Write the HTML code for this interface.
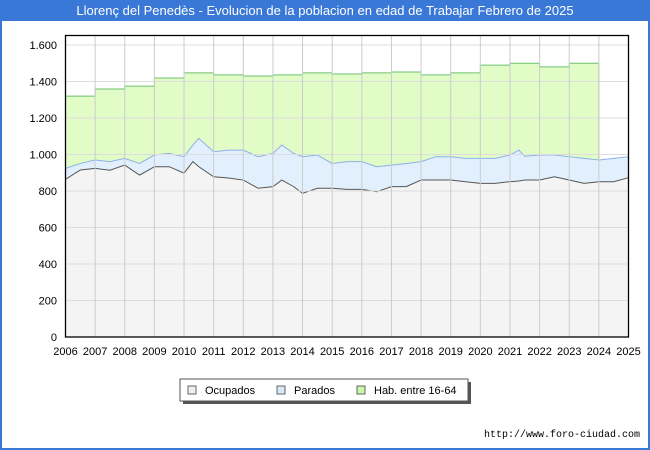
<!DOCTYPE html>
<html><head><meta charset="utf-8">
<style>
body{margin:0;width:650px;height:450px;background:#fff;font-family:"Liberation Sans",sans-serif;overflow:hidden;position:relative}
#frame{position:absolute;left:0;top:0;width:646px;height:446px;border:2px solid #3a78d8}
#title{position:absolute;left:0;top:0;width:650px;height:21px;background:#3a78d8;color:#fff;font-size:13px;line-height:22px;text-align:center}
svg{position:absolute;left:0;top:0}
</style></head><body>
<div id="frame"></div>
<div id="title">Llorenç del Penedès - Evolucion de la poblacion en edad de Trabajar Febrero de 2025</div>
<svg id="chart" width="650" height="450"></svg>
<script>
const years=[2006,2007,2008,2009,2010,2011,2012,2013,2014,2015,2016,2017,2018,2019,2020,2021,2022,2023,2024,2025];
const yTicks=[0,200,400,600,800,1000,1200,1400,1600];
const yTickLabels=["0","200","400","600","800","1.000","1.200","1.400","1.600"];
const habValues=[1320,1359,1375,1419,1447,1436,1430,1436,1447,1441,1447,1452,1436,1447,1490,1500,1480,1500];
const sampleTimes=[2006,2006.5,2007,2007.5,2008,2008.5,2009,2009.5,2010,2010.3,2010.5,2011,2011.5,2012,2012.5,2013,2013.3,2013.7,2014,2014.5,2015,2015.5,2016,2016.5,2017,2017.5,2018,2018.5,2019,2019.5,2020,2020.5,2021,2021.3,2021.5,2022,2022.5,2023,2023.5,2024,2024.5,2025];
const ocupados=[864,915,924,914,942,887,933,933,898,961,933,878,871,860,815,824,860,824,787,815,815,809,809,796,824,824,860,860,860,851,842,842,851,855,860,860,878,860,842,851,851,873];
const ocupParadosTotal=[924,951,970,961,979,951,997,1006,988,1052,1088,1015,1024,1024,988,1006,1052,1006,988,997,951,961,961,933,942,951,961,988,988,979,979,979,997,1024,990,997,997,988,979,970,979,988];

const svg=document.getElementById('chart');
const NS='http://www.w3.org/2000/svg';
const X0=65.5,X1=628.5,Y0=337,Y1=45,YT=35.5;
const xs=t=>X0+(t-2006)/(2025-2006)*(X1-X0);
const ys=v=>Y0-v/1600*(Y0-Y1);
function mk(tag,attrs){const e=document.createElementNS(NS,tag);for(const k in attrs)e.setAttribute(k,attrs[k]);svg.appendChild(e);return e;}
const bg=mk('rect',{x:X0,y:YT,width:X1-X0,height:Y0-YT,fill:'#fff',stroke:'none'});


let d=`M${xs(2006)},${ys(0)}`;
habValues.forEach((v,i)=>{d+=` L${xs(years[i])},${ys(v)} L${xs(years[i+1])},${ys(v)}`;});
d+=` L${xs(2024)},${ys(ocupParadosTotal[ocupParadosTotal.length-3])} L${xs(2024)},${ys(0)} Z`;
const hab=mk('path',{d:d,fill:'#e2fcc8',stroke:'#6cc26c','stroke-width':1});


let dp=`M${xs(sampleTimes[0])},${ys(0)}`;
sampleTimes.forEach((t,i)=>{dp+=` L${xs(t)},${ys(ocupParadosTotal[i])}`;});
dp+=` L${xs(2025)},${ys(0)} Z`;
const par=mk('path',{d:dp,fill:'#e2f0fd',stroke:'none'});


let lp='';sampleTimes.forEach((t,i)=>{lp+=(i?' L':'M')+xs(t)+','+ys(ocupParadosTotal[i]);});
const parL=mk('path',{d:lp,fill:'none',stroke:'#8cb0e8','stroke-width':1});


let dO=`M${xs(sampleTimes[0])},${ys(0)}`;
sampleTimes.forEach((t,i)=>{dO+=` L${xs(t)},${ys(ocupados[i])}`;});
dO+=` L${xs(2025)},${ys(0)} Z`;
const oc=mk('path',{d:dO,fill:'#f4f4f4',stroke:'none'});


let lo='';sampleTimes.forEach((t,i)=>{lo+=(i?' L':'M')+xs(t)+','+ys(ocupados[i]);});
const ocL=mk('path',{d:lo,fill:'none',stroke:'#555','stroke-width':1});


yTicks.forEach((v,i)=>{
 const g=mk('line',{x1:X0,x2:X1,y1:ys(v),y2:ys(v),stroke:'#ddd','stroke-width':1});
 
 
 const t=mk('text',{x:57,y:ys(v)+4,'text-anchor':'end','font-size':11,fill:'#000'});
 t.textContent=yTickLabels[i];
 
 
});
years.forEach(y=>{
 const g=mk('line',{x1:xs(y),x2:xs(y),y1:YT,y2:Y0,stroke:'#ccc','stroke-width':1});
 
 
 const t=mk('text',{x:xs(y),y:355,'text-anchor':'middle','font-size':11,fill:'#000'});
 t.textContent=String(y);
 
 
});
const ax=mk('rect',{x:X0,y:YT,width:X1-X0,height:Y0-YT,fill:'none',stroke:'#000','stroke-width':1.3});


const sh=mk('rect',{x:183,y:382,width:288,height:22,fill:'#555'});


const lg=mk('rect',{x:180,y:379,width:288,height:22,fill:'#fff',stroke:'#555'});


const legItems=[['Ocupados','#eeeeee',188],['Parados','#d8e8fb',277],['Hab. entre 16-64','#c8f8a8',357]];
legItems.forEach(([n,c,x])=>{
 const b=mk('rect',{x:x,y:386,width:8,height:8,fill:c,stroke:'#666'});
 
 
 const t=mk('text',{x:x+17,y:394,'font-size':11,fill:'#000'});
 t.textContent=n;
 
 
});
const url=mk('text',{x:640,y:437,'text-anchor':'end','font-size':10,fill:'#000','font-family':'Liberation Mono, monospace'});
url.textContent='http://www.foro-ciudad.com';


</script>
</body></html>
